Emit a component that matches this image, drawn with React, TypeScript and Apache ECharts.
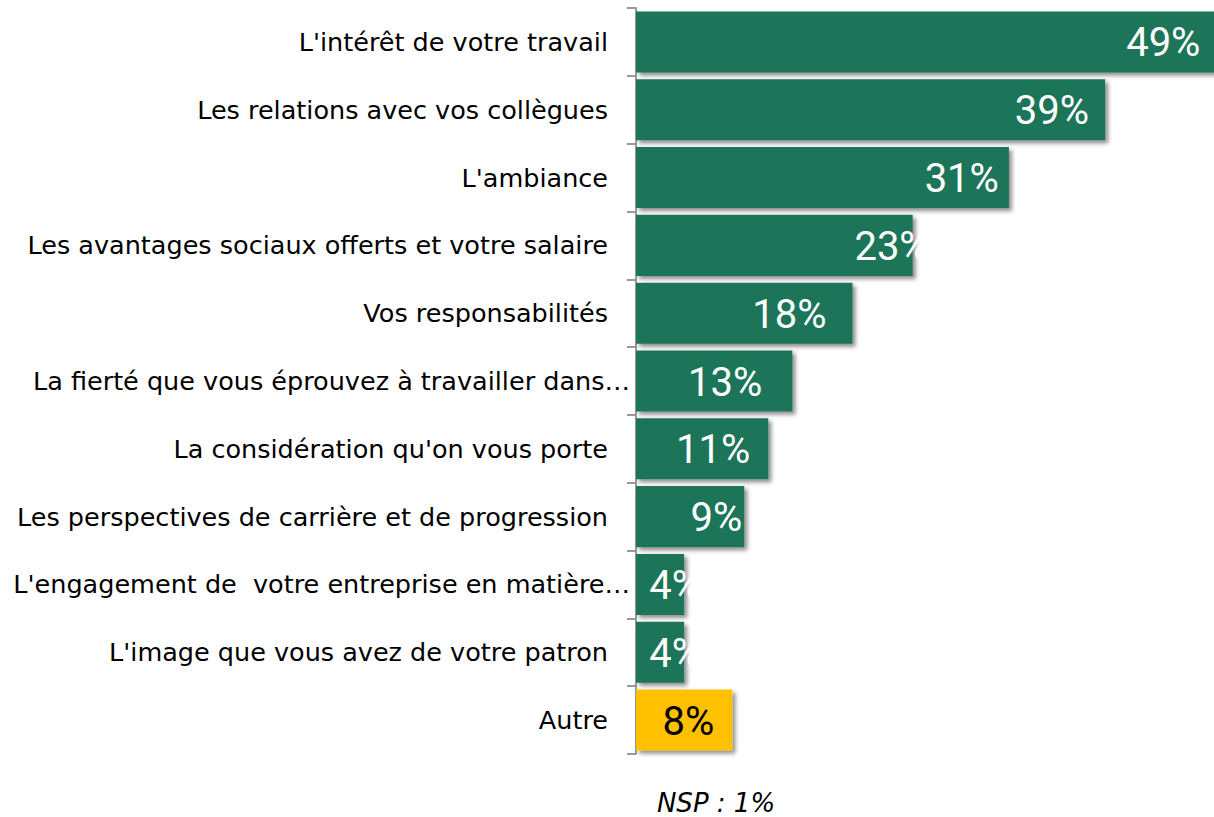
import React, { useEffect, useRef } from "react";
import * as echarts from "echarts";

const categories = [
  "L'intérêt de votre travail",
  "Les relations avec vos collègues",
  "L'ambiance",
  "Les avantages sociaux offerts et votre salaire",
  "Vos responsabilités",
  "La fierté que vous éprouvez à travailler dans…",
  "La considération qu'on vous porte",
  "Les perspectives de carrière et de progression",
  "L'engagement de  votre entreprise en matière…",
  "L'image que vous avez de votre patron",
  "Autre",
];
const values = [49, 39, 31, 23, 18, 13, 11, 9, 4, 4, 8];
const note = "NSP : 1%";

// label inset from bar end (px), styling only
const labelInset = [25, 16, 10, -16, 26, 30, 18, 2, -17, -17, 18];

const GREEN = "#1d7558";
const YELLOW = "#ffc000";

export default function App() {
  const ref = useRef<HTMLDivElement>(null);
  useEffect(() => {
    if (!ref.current) return;
    const chart = echarts.init(ref.current, undefined, { renderer: "svg" });
    const data = values.map((v, i) => {
      const isOther = categories[i] === "Autre";
      return {
        value: v,
        itemStyle: { color: isOther ? YELLOW : GREEN },
        label: {
          color: isOther ? "#000" : "#fff",
          offset: [-labelInset[i], 1],
        },
      };
    });
    chart.setOption({
      animation: false,
      grid: { left: 636, top: 8, height: 746, right: 0 },
      xAxis: {
        type: "value",
        min: 0,
        max: 48.05,
        show: false,
      },
      yAxis: {
        type: "category",
        data: categories,
        inverse: true,
        axisLine: { show: true, lineStyle: { color: "#999", width: 2 } },
        axisTick: { show: true, length: 9, lineStyle: { color: "#999", width: 2 } },
        axisLabel: {
          margin: 6,
          fontFamily: "DejaVu Sans",
          fontSize: 25.5,
          color: "#000",
          formatter: (v: string) => (v.endsWith("…") ? `{t|${v}}` : `{n|${v}}`),
          rich: {
            t: { fontFamily: "DejaVu Sans", fontSize: 25.5, color: "#000", padding: [0, 0, 0, 0] },
            n: { fontFamily: "DejaVu Sans", fontSize: 25.5, color: "#000", padding: [0, 22, 0, 0] },
          },
        },
        splitLine: { show: false },
      },
      series: [
        {
          type: "bar",
          data,
          barCategoryGap: "10%",
          clip: false,
          itemStyle: {
            shadowColor: "rgba(0,0,0,0.45)",
            shadowBlur: 4,
            shadowOffsetX: 3,
            shadowOffsetY: 3,
          },
          label: {
            show: true,
            position: "insideRight",
            distance: 0,
            fontFamily: "Roboto",
            fontWeight: "normal",
            fontSize: 40,
            formatter: (p: any) => `${p.value}%`,
          },
        },
      ],
      graphic: [
        {
          type: "text",
          x: 716,
          y: 803,
          style: {
            text: note,
            font: "italic 26px 'DejaVu Sans'",
            fill: "#000",
            textAlign: "center",
            textVerticalAlign: "middle",
          },
        },
      ],
    });
    return () => chart.dispose();
  }, []);
  return (
    <div
      ref={ref}
      style={{ position: "fixed", left: 0, top: 0, width: 1214, height: 817, background: "#fff" }}
    />
  );
}
